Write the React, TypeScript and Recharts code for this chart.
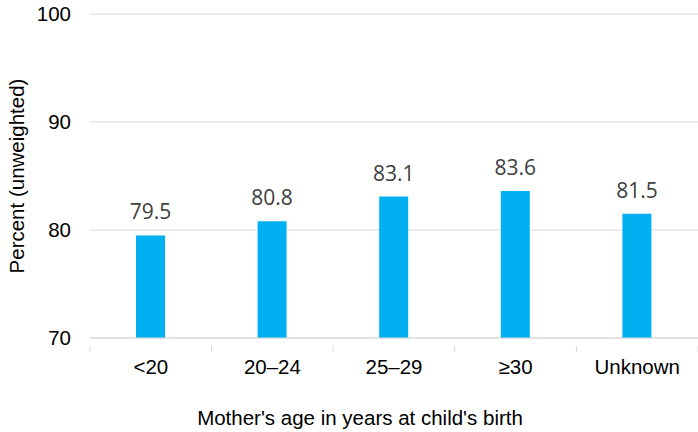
import { BarChart, Bar, XAxis, YAxis, CartesianGrid, LabelList } from 'recharts'

const ageGroups = ['<20', '20–24', '25–29', '≥30', 'Unknown']
const percents = [79.5, 80.8, 83.1, 83.6, 81.5]
const yTicks = [70, 80, 90, 100]

const data = ageGroups.map((name, i) => ({ name, value: percents[i] }))

const W = 698
const H = 432
const LEFT = 90
const band = (W - LEFT) / ageGroups.length
const FONT = "'Liberation Sans', Arial, sans-serif"

const AgeTick = (props: any) => {
  const { x, y, payload, index } = props
  return (
    <g>
      <line x1={x - band / 2} x2={x - band / 2} y1={y} y2={y + 6} stroke="#d9d9d9" />
      {index === ageGroups.length - 1 && (
        <line x1={x + band / 2} x2={x + band / 2} y1={y} y2={y + 6} stroke="#d9d9d9" />
      )}
      <text x={x} y={y + 13} dy="0.71em" textAnchor="middle" fill="#000" fontSize={20.5}
        fontFamily={FONT}>
        {payload.value}
      </text>
    </g>
  )
}

// axis title sits a bit left of the plot centre, like the original
const XTitle = () => (
  <text x={360} y={425} textAnchor="middle" fill="#000" fontSize={20.5} fontFamily={FONT}>
    Mother's age in years at child's birth
  </text>
)

export default function App() {
  return (
    <div style={{ position: 'absolute', left: 0, top: 0, width: W, height: H, background: '#fff' }}>
      <BarChart width={W} height={H} data={data} margin={{ top: 14, right: 0, bottom: 0, left: 0 }}
        barCategoryGap="0%">
        <CartesianGrid vertical={false} stroke="#d9d9d9" />
        <XAxis dataKey="name" height={94} axisLine={{ stroke: '#d9d9d9' }} tickLine={false}
          tick={<AgeTick />} interval={0} label={<XTitle />} />
        <YAxis domain={[70, 100]} ticks={yTicks} width={LEFT} axisLine={false} tickLine={false}
          tickSize={0} tickMargin={19}
          tick={{ fontSize: 20.5, fill: '#000', fontFamily: FONT }}
          label={{ value: 'Percent (unweighted)', angle: -90, position: 'insideLeft', offset: 17,
            style: { textAnchor: 'middle', fontSize: 20.5, fill: '#000', fontFamily: FONT } }} />
        <Bar dataKey="value" fill="#00b0f0" barSize={29} isAnimationActive={false}>
          <LabelList dataKey="value" position="top" offset={16} fill="#404040" fontSize={21}
            fontFamily="'Open Sans', sans-serif" formatter={(v: any) => Number(v).toFixed(1)} />
        </Bar>
      </BarChart>
    </div>
  )
}
